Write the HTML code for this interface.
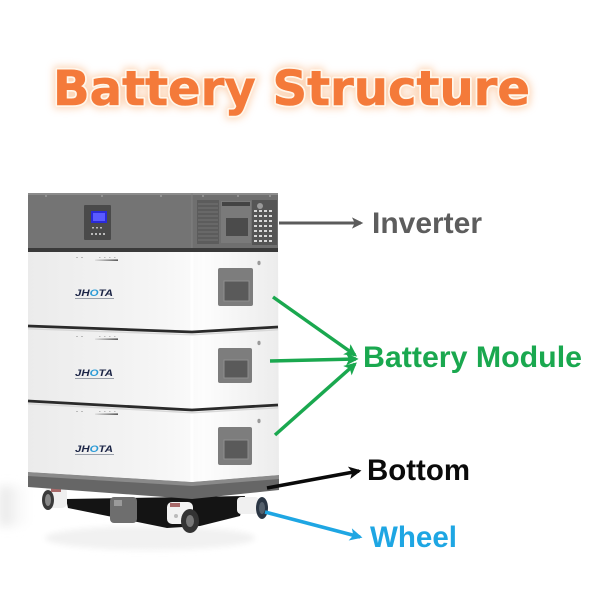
<!DOCTYPE html>
<html><head><meta charset="utf-8"><style>
html,body{margin:0;padding:0;background:#fff;}
svg{display:block;}
</style></head><body>
<svg width="600" height="600" viewBox="0 0 600 600" xmlns="http://www.w3.org/2000/svg">
<defs>
<filter id="glow" x="-10%" y="-40%" width="120%" height="180%"><feGaussianBlur stdDeviation="4"/></filter>
<filter id="blur2" x="-20%" y="-50%" width="140%" height="200%"><feGaussianBlur stdDeviation="3"/></filter>
<filter id="blur4" x="-50%" y="-50%" width="200%" height="200%"><feGaussianBlur stdDeviation="5"/></filter>
<linearGradient id="white" x1="0" x2="1" y1="0" y2="0">
<stop offset="0" stop-color="#ebebeb"/><stop offset="0.5" stop-color="#f5f5f5"/><stop offset="0.64" stop-color="#f9f9f9"/><stop offset="0.7" stop-color="#fdfdfd"/><stop offset="1" stop-color="#ececec"/>
</linearGradient>
<linearGradient id="led" x1="0" x2="1"><stop offset="0" stop-color="#ddd"/><stop offset="1" stop-color="#333"/></linearGradient>
<linearGradient id="floorL" x1="0" x2="1"><stop offset="0" stop-color="#e2e2e2"/><stop offset="1" stop-color="#fff" stop-opacity="0"/></linearGradient>
<marker id="ag" viewBox="0 0 10 10" refX="8" refY="5" markerWidth="3.6" markerHeight="3.6" orient="auto" markerUnits="strokeWidth"><path d="M0,0 L10,5 L0,10 L2.5,5 z" fill="#1aa84f"/></marker>
<marker id="ak" viewBox="0 0 10 10" refX="8" refY="5" markerWidth="3.6" markerHeight="3.6" orient="auto" markerUnits="strokeWidth"><path d="M0,0 L10,5 L0,10 L2.5,5 z" fill="#0a0a0a"/></marker>
<marker id="ab" viewBox="0 0 10 10" refX="8" refY="5" markerWidth="3.6" markerHeight="3.6" orient="auto" markerUnits="strokeWidth"><path d="M0,0 L10,5 L0,10 L2.5,5 z" fill="#1ea6e3"/></marker>
<marker id="ay" viewBox="0 0 10 10" refX="8" refY="5" markerWidth="3.8" markerHeight="3.8" orient="auto" markerUnits="strokeWidth"><path d="M0,0 L10,5 L0,10 L2.5,5 z" fill="#5b5b5b"/></marker>
</defs>

<!-- Title -->
<g font-family="'DejaVu Sans', Verdana, sans-serif" font-weight="bold" font-size="48">
<text x="53" y="105" textLength="477" lengthAdjust="spacingAndGlyphs" fill="#f9a56a" stroke="#fbc49a" stroke-width="7" filter="url(#glow)" opacity="0.7">Battery Structure</text>
<text x="53" y="105" textLength="477" lengthAdjust="spacingAndGlyphs" fill="#f47a3a" stroke="#fff6ea" stroke-width="4" stroke-linejoin="round">Battery Structure</text>
<text x="53" y="105" textLength="477" lengthAdjust="spacingAndGlyphs" fill="#f47a3a" stroke="#f47a3a" stroke-width="0.6">Battery Structure</text>
</g>

<!-- floor reflections -->
<rect x="0" y="486" width="36" height="40" fill="url(#floorL)" filter="url(#blur4)"/>
<ellipse cx="150" cy="538" rx="105" ry="12" fill="#f1f1f1" filter="url(#blur2)"/>
<!-- shadow under device -->
<polygon points="66,499 245,496 240,516 200,526 167,528 68,508" fill="#141414"/>

<!-- Wheels -->
<rect x="110" y="497" width="27" height="26" rx="4" fill="#6e6e6e"/>
<rect x="114" y="500" width="8" height="6" fill="#9a9a9a"/>
<rect x="45" y="487" width="22" height="21" rx="5" fill="#efefef"/>
<ellipse cx="48" cy="500" rx="6" ry="10" fill="#3a3a3a"/>
<ellipse cx="48" cy="500" rx="3" ry="6" fill="#888"/>
<rect x="51" y="488" width="10" height="4" fill="#a86a6a"/>
<rect x="167" y="502" width="26" height="22" rx="5" fill="#f2f2f2"/>
<ellipse cx="190" cy="521" rx="9" ry="12" fill="#333"/>
<ellipse cx="190" cy="521" rx="4" ry="6" fill="#777"/>
<rect x="170" y="503" width="10" height="4" fill="#a86a6a"/>
<circle cx="176" cy="516" r="2" fill="#bbb"/>
<rect x="237" y="497" width="22" height="17" rx="4" fill="#f0f0f0"/>
<ellipse cx="262" cy="508" rx="6" ry="11" fill="#2b3644"/>
<ellipse cx="262" cy="508" rx="3" ry="6" fill="#55606c"/>

<!-- Base -->
<polygon points="28,472 192,482 279,475 279,490 192,499 28,487" fill="#666"/>
<polygon points="28,472 192,482 279,475 279,479 192,486 28,476" fill="#8a8a8a"/>

<!-- White modules -->
<polygon points="28,252 278,252 279,475 192,482 28,472" fill="url(#white)"/>
<line x1="192" y1="252" x2="192" y2="482" stroke="#ffffff" stroke-width="3" opacity="0.8"/>
<polyline points="28,326 192,332 278,327" fill="none" stroke="#2a2a2a" stroke-width="2.8"/>
<polyline points="28,328.7 192,334.7 278,329.7" fill="none" stroke="#d8d8d8" stroke-width="1.5"/>
<polyline points="28,401 192,410 278,405" fill="none" stroke="#2a2a2a" stroke-width="2.8"/>
<polyline points="28,403.7 192,412.7 278,407.7" fill="none" stroke="#d8d8d8" stroke-width="1.5"/>

<!-- Inverter -->
<rect x="28" y="193" width="250" height="56" fill="#747474"/>
<rect x="28" y="193" width="250" height="2" fill="#8c8c8c"/>
<rect x="192" y="195" width="86" height="54" fill="#6f6f6f"/>
<line x1="192" y1="193" x2="192" y2="249" stroke="#828282" stroke-width="1"/>
<rect x="28" y="248" width="250" height="4" fill="#3a3a3a"/>
<g fill="#a8a8a8"><circle cx="46" cy="196" r="0.9"/><circle cx="102" cy="196" r="0.9"/><circle cx="161" cy="196" r="0.9"/><circle cx="203" cy="196" r="0.9"/><circle cx="238" cy="196" r="0.9"/><circle cx="270" cy="196" r="0.9"/></g>
<rect x="84" y="205" width="27" height="35" rx="1" fill="#4a4a4a"/>
<rect x="91" y="211" width="16" height="12" fill="#2a2ad8"/>
<rect x="93" y="213" width="12" height="8" fill="#5a5aff"/>
<g fill="#bbb"><rect x="92" y="227" width="2" height="1.5"/><rect x="96" y="227" width="2" height="1.5"/><rect x="100" y="227" width="2" height="1.5"/>
<rect x="91" y="233" width="2" height="2"/><rect x="95" y="233" width="2" height="2"/><rect x="99" y="233" width="2" height="2"/><rect x="103" y="233" width="2" height="2"/></g>
<rect x="197" y="200" width="22" height="44" fill="#5c5c5c"/>
<g stroke="#7e7e7e" stroke-width="0.8">
<line x1="198" y1="204" x2="218" y2="204"/><line x1="198" y1="208" x2="218" y2="208"/><line x1="198" y1="212" x2="218" y2="212"/><line x1="198" y1="216" x2="218" y2="216"/><line x1="198" y1="220" x2="218" y2="220"/><line x1="198" y1="224" x2="218" y2="224"/><line x1="198" y1="228" x2="218" y2="228"/><line x1="198" y1="232" x2="218" y2="232"/><line x1="198" y1="236" x2="218" y2="236"/><line x1="198" y1="240" x2="218" y2="240"/>
</g>
<rect x="221" y="201" width="30" height="42" fill="#7a7a7a"/>
<rect x="222" y="202" width="28" height="4" fill="#444"/>
<rect x="226" y="218" width="22" height="18" fill="#4b4b4b"/>
<rect x="252" y="200" width="25" height="45" fill="#555"/>
<g fill="#d8d8d8">
<rect x="254" y="210" width="3" height="2"/><rect x="259" y="210" width="3" height="2"/><rect x="264" y="210" width="3" height="2"/><rect x="269" y="210" width="3" height="2"/>
<rect x="254" y="215" width="3" height="2"/><rect x="259" y="215" width="3" height="2"/><rect x="264" y="215" width="3" height="2"/><rect x="269" y="215" width="3" height="2"/>
<rect x="254" y="220" width="3" height="2"/><rect x="259" y="220" width="3" height="2"/><rect x="264" y="220" width="3" height="2"/><rect x="269" y="220" width="3" height="2"/>
<rect x="254" y="225" width="3" height="2"/><rect x="259" y="225" width="3" height="2"/><rect x="264" y="225" width="3" height="2"/><rect x="269" y="225" width="3" height="2"/>
<rect x="254" y="230" width="3" height="2"/><rect x="259" y="230" width="3" height="2"/><rect x="264" y="230" width="3" height="2"/><rect x="269" y="230" width="3" height="2"/>
<rect x="254" y="235" width="3" height="2"/><rect x="259" y="235" width="3" height="2"/><rect x="264" y="235" width="3" height="2"/><rect x="269" y="235" width="3" height="2"/>
<rect x="254" y="240" width="3" height="2"/><rect x="259" y="240" width="3" height="2"/><rect x="264" y="240" width="3" height="2"/><rect x="269" y="240" width="3" height="2"/>
</g>
<circle cx="260" cy="206" r="3" fill="#9a9a9a"/>

<!-- Module details -->
<rect x="95" y="259.5" width="23" height="1.3" fill="url(#led)"/>
<rect x="95" y="338.5" width="23" height="1.3" fill="url(#led)"/>
<rect x="95" y="413.5" width="23" height="1.3" fill="url(#led)"/>
<g fill="#bbb">
<rect x="76" y="257" width="2" height="1"/><rect x="81" y="257" width="2" height="1"/><rect x="99" y="257" width="1.5" height="1"/><rect x="104" y="257" width="1.5" height="1"/><rect x="109" y="257" width="1.5" height="1"/><rect x="114" y="257" width="1.5" height="1"/>
<rect x="76" y="336" width="2" height="1"/><rect x="81" y="336" width="2" height="1"/><rect x="99" y="336" width="1.5" height="1"/><rect x="104" y="336" width="1.5" height="1"/><rect x="109" y="336" width="1.5" height="1"/><rect x="114" y="336" width="1.5" height="1"/>
<rect x="76" y="411" width="2" height="1"/><rect x="81" y="411" width="2" height="1"/><rect x="99" y="411" width="1.5" height="1"/><rect x="104" y="411" width="1.5" height="1"/><rect x="109" y="411" width="1.5" height="1"/><rect x="114" y="411" width="1.5" height="1"/>
</g>
<g font-family="'Liberation Sans', Arial, sans-serif" font-weight="bold" font-style="italic" font-size="9.5" fill="#1d2647">
<text x="75" y="296" textLength="38" lengthAdjust="spacingAndGlyphs">JH<tspan fill="#2a9ad6">O</tspan>TA</text>
<text x="75" y="376" textLength="38" lengthAdjust="spacingAndGlyphs">JH<tspan fill="#2a9ad6">O</tspan>TA</text>
<text x="75" y="452" textLength="38" lengthAdjust="spacingAndGlyphs">JH<tspan fill="#2a9ad6">O</tspan>TA</text>
</g>
<g fill="#9aa0aa">
<rect x="75" y="298" width="39" height="1"/>
<rect x="75" y="378" width="39" height="1"/>
<rect x="75" y="454" width="39" height="1"/>
</g>
<rect x="218" y="268" width="35" height="38" rx="2" fill="#7d7d7d"/>
<rect x="224" y="281" width="25" height="20" fill="#5a5a5a" stroke="#8e8e8e" stroke-width="1"/>
<rect x="218" y="348" width="34" height="35" rx="2" fill="#7d7d7d"/>
<rect x="224" y="360" width="24" height="18" fill="#5a5a5a" stroke="#8e8e8e" stroke-width="1"/>
<rect x="218" y="427" width="34" height="38" rx="2" fill="#7d7d7d"/>
<rect x="224" y="440" width="24" height="19" fill="#5a5a5a" stroke="#8e8e8e" stroke-width="1"/>
<g fill="#9a9a9a"><ellipse cx="259" cy="263" rx="1.6" ry="2.2"/><ellipse cx="259" cy="343" rx="1.6" ry="2.2"/><ellipse cx="259" cy="421" rx="1.6" ry="2.2"/></g>

<!-- Arrows -->
<line x1="279" y1="223" x2="361" y2="223" stroke="#5b5b5b" stroke-width="3" marker-end="url(#ay)"/>
<g stroke="#1aa84f" stroke-width="3.5" fill="none">
<line x1="273" y1="297" x2="355" y2="355" marker-end="url(#ag)"/>
<line x1="270" y1="361" x2="356" y2="359" marker-end="url(#ag)"/>
<line x1="275" y1="435" x2="355" y2="364" marker-end="url(#ag)"/>
</g>
<line x1="267" y1="488" x2="359" y2="471" stroke="#0a0a0a" stroke-width="3.5" marker-end="url(#ak)"/>
<line x1="265" y1="512" x2="360" y2="537" stroke="#1ea6e3" stroke-width="3.5" marker-end="url(#ab)"/>

<!-- Labels -->
<g font-family="'Liberation Sans', Arial, sans-serif" font-weight="bold" font-size="30">
<text x="372" y="233" fill="#5d5d5d" textLength="110" lengthAdjust="spacingAndGlyphs">Inverter</text>
<text x="363" y="367" fill="#1aa84f" textLength="219" lengthAdjust="spacingAndGlyphs">Battery Module</text>
<text x="367" y="480" fill="#0a0a0a" textLength="103" lengthAdjust="spacingAndGlyphs">Bottom</text>
<text x="370" y="547" fill="#1ea6e3" textLength="87" lengthAdjust="spacingAndGlyphs">Wheel</text>
</g>
</svg>
</body></html>
